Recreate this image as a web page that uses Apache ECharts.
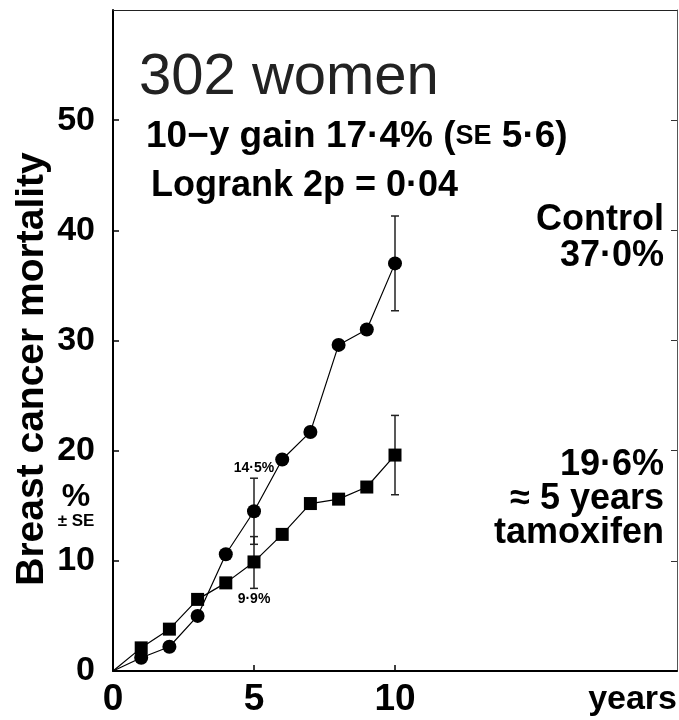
<!DOCTYPE html>
<html>
<head>
<meta charset="utf-8">
<script src="https://cdn.jsdelivr.net/npm/echarts@6/dist/echarts.min.js"></script>
<style>
html,body{margin:0;padding:0;background:#fff;}
#c{width:679px;height:720px;}
</style>
</head>
<body>
<div id="c"></div>
<script>
var years = [0, 1, 2, 3, 4, 5, 6, 7, 8, 9, 10];
var controlVals = [0, 1.2, 2.2, 5.0, 10.6, 14.5, 19.2, 21.7, 29.6, 31.0, 37.0];
var tamoxVals = [0, 2.1, 3.8, 6.5, 8.0, 9.9, 12.4, 15.2, 15.6, 16.7, 19.6];
var errYears = [5, 5, 10, 10];
var errLow = [11.5, 7.5, 32.7, 16.0];
var errHigh = [17.5, 12.2, 41.3, 23.2];
var errLabels = ['14·5%', '9·9%', '', ''];
var errLabelPos = ['top', 'bottom', '', ''];
var xTickLabels = [0, 5, 10];
var yTickLabels = [0, 10, 20, 30, 40, 50];
var FONT = 'Liberation Sans, Arial, sans-serif';

function mk(vals) {
  return years.map(function (y, i) {
    var d = { value: [y, vals[i]] };
    if (i === 0) { d.symbol = 'none'; }
    return d;
  });
}

var chart = echarts.init(document.getElementById('c'), null, { renderer: 'canvas' });
var option = {
  animation: false,
  backgroundColor: '#fff',
  grid: { left: 113, right: 2, top: 10, bottom: 49, containLabel: false, outerBoundsMode: 'none' },
  xAxis: [{
    type: 'value', min: 0, max: 20, interval: 5, position: 'bottom',
    axisLine: { show: true, onZero: false, lineStyle: { color: '#000', width: 2 } },
    axisTick: { show: true, inside: true, length: 6, customValues: [5, 10], lineStyle: { color: '#000', width: 1.5 } },
    axisLabel: { show: true, customValues: xTickLabels, fontFamily: FONT, fontWeight: 'bold', fontSize: 37, color: '#000', margin: 10 },
    splitLine: { show: false }
  }, {
    type: 'value', min: 0, max: 20, position: 'top',
    axisLine: { show: true, onZero: false, lineStyle: { color: '#222', width: 1 } },
    axisTick: { show: false }, axisLabel: { show: false }, splitLine: { show: false }
  }],
  yAxis: [{
    type: 'value', min: 0, max: 60, interval: 10, position: 'left',
    axisLine: { show: true, onZero: false, lineStyle: { color: '#000', width: 2 } },
    axisTick: { show: true, inside: true, length: 6, customValues: [10, 20, 30, 40, 50], lineStyle: { color: '#000', width: 1.5 } },
    axisLabel: { show: true, customValues: yTickLabels, fontFamily: FONT, fontWeight: 'bold', fontSize: 34, color: '#000', margin: 18 },
    splitLine: { show: false }
  }, {
    type: 'value', min: 0, max: 60, interval: 10, position: 'right',
    axisLine: { show: true, onZero: false, lineStyle: { color: '#555', width: 1 } },
    axisTick: { show: true, inside: true, length: 6, customValues: [10, 20, 30, 40, 50], lineStyle: { color: '#333', width: 1 } },
    axisLabel: { show: false }, splitLine: { show: false }
  }],
  series: [{
    name: 'Control', type: 'line', xAxisIndex: 0, yAxisIndex: 0,
    data: mk(controlVals), symbol: 'circle', symbolSize: 14,
    lineStyle: { color: '#000', width: 1.2 }, itemStyle: { color: '#000' }, z: 3
  }, {
    name: 'Tamoxifen', type: 'line', xAxisIndex: 0, yAxisIndex: 0,
    data: mk(tamoxVals), symbol: 'rect', symbolSize: 13,
    lineStyle: { color: '#000', width: 1.2 }, itemStyle: { color: '#000' }, z: 3
  }, {
    name: 'SE', type: 'custom', xAxisIndex: 0, yAxisIndex: 0, z: 2,
    data: errYears.map(function (x, i) { return [x, errLow[i], errHigh[i], i]; }),
    renderItem: function (params, api) {
      var x = api.value(0), lo = api.value(1), hi = api.value(2), idx = api.value(3);
      var pLo = api.coord([x, lo]), pHi = api.coord([x, hi]);
      var w = 4;
      var ls = { stroke: '#222', lineWidth: 1.5 };
      var children = [
        { type: 'line', shape: { x1: pLo[0], y1: pLo[1], x2: pHi[0], y2: pHi[1] }, style: ls },
        { type: 'line', shape: { x1: pLo[0] - w, y1: pLo[1], x2: pLo[0] + w, y2: pLo[1] }, style: ls },
        { type: 'line', shape: { x1: pHi[0] - w, y1: pHi[1], x2: pHi[0] + w, y2: pHi[1] }, style: ls }
      ];
      var lab = errLabels[idx];
      if (lab) {
        var top = errLabelPos[idx] === 'top';
        children.push({
          type: 'text',
          style: {
            text: lab, x: pHi[0], y: top ? pHi[1] - 10 : pLo[1] + 11,
            align: 'center', verticalAlign: 'middle',
            font: 'bold 14px ' + FONT, fill: '#000'
          }
        });
      }
      return { type: 'group', children: children };
    }
  }],
  graphic: [
    { type: 'text', x: 139, y: 78, style: { text: '302 women', font: '58px ' + FONT, fill: '#222', verticalAlign: 'middle' } },
    { type: 'text', x: 146, y: 137, style: {
      text: '{a|10−y gain 17·4% (}{b|SE}{a| 5·6)}', verticalAlign: 'middle',
      rich: { a: { font: 'bold 37px ' + FONT, fill: '#000' }, b: { font: 'bold 27px ' + FONT, fill: '#000' } }
    } },
    { type: 'text', x: 151, y: 186, style: { text: 'Logrank 2p = 0·04', font: 'bold 36px ' + FONT, fill: '#000', verticalAlign: 'middle' } },
    { type: 'text', x: 664, y: 220, style: { text: 'Control', font: 'bold 36px ' + FONT, fill: '#000', align: 'right', verticalAlign: 'middle' } },
    { type: 'text', x: 664, y: 256, style: { text: '37·0%', font: 'bold 36px ' + FONT, fill: '#000', align: 'right', verticalAlign: 'middle' } },
    { type: 'text', x: 664, y: 465, style: { text: '19·6%', font: 'bold 36px ' + FONT, fill: '#000', align: 'right', verticalAlign: 'middle' } },
    { type: 'text', x: 664, y: 499, style: { text: '≈ 5 years', font: 'bold 36px ' + FONT, fill: '#000', align: 'right', verticalAlign: 'middle' } },
    { type: 'text', x: 664, y: 533, style: { text: 'tamoxifen', font: 'bold 36px ' + FONT, fill: '#000', align: 'right', verticalAlign: 'middle' } },
    { type: 'text', x: 32, y: 369, rotation: Math.PI / 2,
      style: { text: 'Breast cancer mortality', font: 'bold 39px ' + FONT, fill: '#000', align: 'center', verticalAlign: 'middle' } },
    { type: 'text', x: 76, y: 497, style: { text: '%', font: 'bold 32px ' + FONT, fill: '#000', align: 'center', verticalAlign: 'middle' } },
    { type: 'text', x: 76, y: 521, style: { text: '± SE', font: 'bold 17px ' + FONT, fill: '#000', align: 'center', verticalAlign: 'middle' } },
    { type: 'text', x: 677, y: 700, style: { text: 'years', font: 'bold 34px ' + FONT, fill: '#000', align: 'right', verticalAlign: 'middle' } }
  ]
};
chart.setOption(option);
</script>
</body>
</html>
